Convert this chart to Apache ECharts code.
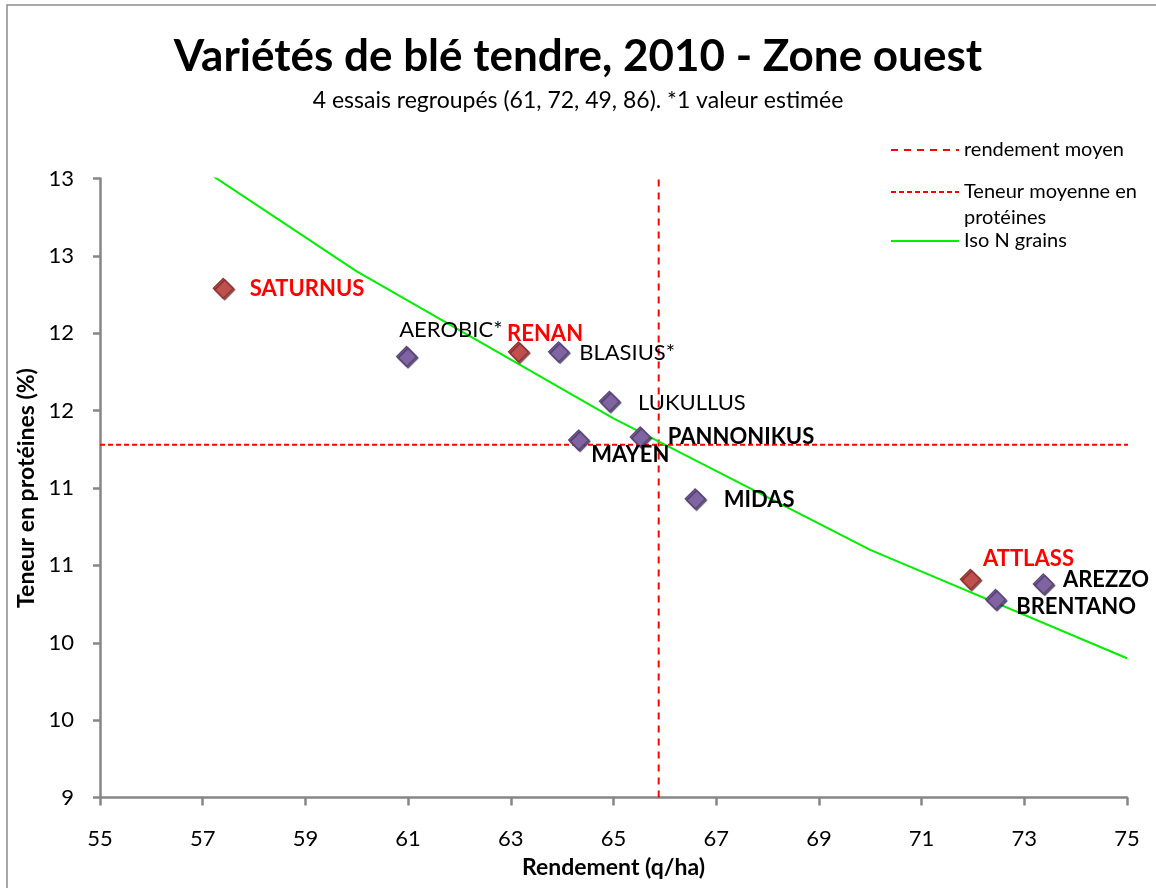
<!DOCTYPE html>
<html>
<head>
<meta charset="utf-8">
<script src="https://cdn.jsdelivr.net/npm/echarts@6/dist/echarts.min.js"></script>
<style>
    html, body {margin: 0; padding: 0; background: #fff;}
    #szChart {width: 1156px; height: 888px;}
</style>
</head>
<body>
<div id="szChart"></div>
<script>
// variétés et valeurs
var varieties = ['SATURNUS', 'AEROBIC*', 'RENAN', 'BLASIUS*', 'LUKULLUS', 'PANNONIKUS', 'MAYEN', 'MIDAS', 'ATTLASS', 'AREZZO', 'BRENTANO'];
var yields = [57.40, 60.97, 63.15, 63.93, 64.92, 65.52, 64.32, 66.59, 71.95, 73.37, 72.44];
var proteins = [12.29, 11.85, 11.88, 11.88, 11.56, 11.33, 11.31, 10.93, 10.41, 10.38, 10.28];

// courbe iso N grains
var isoYield = [55, 60, 65, 70, 75];
var isoProtein = [13.50, 12.40, 11.45, 10.60, 9.90];

// moyennes
var meanYield = 65.88;
var meanProtein = 11.28;
var meanYieldSpan = [9, 13];
var meanProteinSpan = [55, 75.5];

// étiquettes des axes (Excel arrondit à l'entier)
var xTickLabels = ['55', '57', '59', '61', '63', '65', '67', '69', '71', '73', '75'];
var yTickLabels = ['9', '10', '10', '11', '11', '12', '12', '13', '13'];

var FONT = 'Lato';
var RED = '#ff0000';

/*style des étiquettes, par variété*/
var labelStyle = {
    'SATURNUS': {red: true, bold: true, dx: 11, dy: 1},
    'AEROBIC*': {red: false, bold: false, dx: -23, dy: -27},
    'RENAN': {red: true, bold: true, dx: -27, dy: -18},
    'BLASIUS*': {red: false, bold: false, dx: 5, dy: 1},
    'LUKULLUS': {red: false, bold: false, dx: 13, dy: 2},
    'PANNONIKUS': {red: false, bold: true, dx: 12, dy: 0},
    'MAYEN': {red: false, bold: true, dx: -3, dy: 15},
    'MIDAS': {red: false, bold: true, dx: 13, dy: 1},
    'ATTLASS': {red: true, bold: true, dx: -3, dy: -20},
    'AREZZO': {red: false, bold: true, dx: 4, dy: -4},
    'BRENTANO': {red: false, bold: true, dx: 5, dy: 7}
};

var scatterData = [];
for (var i = 0; i < varieties.length; i++) {
    var name = varieties[i];
    var st = labelStyle[name];
    scatterData.push({
        name: name,
        value: [yields[i], proteins[i]],
        itemStyle: st.red ? {
            color: '#c0504d', borderColor: '#8a3432', borderWidth: 1.2,
            shadowColor: 'rgba(90,20,20,0.7)', shadowOffsetX: 1.5, shadowOffsetY: 1.5, shadowBlur: 1
        } : {
            color: '#8064a2', borderColor: '#5a4676', borderWidth: 1.2,
            shadowColor: 'rgba(40,25,70,0.7)', shadowOffsetX: 1.5, shadowOffsetY: 1.5, shadowBlur: 1
        },
        label: {
            show: true,
            position: 'right',
            distance: 5,
            offset: [st.dx, st.dy],
            formatter: '{b}',
            color: st.red ? RED : '#000',
            opacity: 1,
            textBorderWidth: 0,
            fontWeight: st.bold ? 'bold' : 'normal',
            fontFamily: FONT,
            fontSize: 22
        }
    });
}

var axisLineStyle = {color: '#868686', width: 2.5};
var legendText = {fontFamily: FONT, fontSize: 20, color: '#000', lineHeight: 26};

var option = {
    animation: false,
    backgroundColor: '#fff',
    textStyle: {fontFamily: FONT},
    title: [{
        text: 'Variétés de blé tendre, 2010 - Zone ouest',
        left: 'center',
        top: 34,
        padding: [0, 0, 0, 8],
        textStyle: {fontFamily: FONT, fontSize: 44, fontWeight: 'bold', color: '#000', lineHeight: 46}
    }, {
        text: '4 essais regroupés (61, 72, 49, 86). *1 valeur estimée',
        left: 'center',
        top: 89,
        padding: [0, 0, 0, 4],
        textStyle: {fontFamily: FONT, fontSize: 23, fontWeight: 'normal', color: '#000', lineHeight: 24}
    }],
    legend: [{
        data: ['rendement moyen'],
        left: 890, top: 137, padding: 0,
        itemWidth: 68, itemHeight: 14,
        itemStyle: {opacity: 0},
        textStyle: legendText
    }, {
        data: ['Teneur moyenne en protéines'],
        left: 890, top: 153, padding: 0,
        itemWidth: 68, itemHeight: 14,
        itemStyle: {opacity: 0},
        formatter: function () { return '\nTeneur moyenne en\nprotéines'; },
        textStyle: legendText
    }, {
        data: ['Iso N grains'],
        left: 890, top: 228, padding: 0,
        itemWidth: 68, itemHeight: 14,
        itemStyle: {opacity: 0},
        textStyle: legendText
    }],
    grid: {left: 100, right: 29, top: 178.5, bottom: 90.5, containLabel: false},
    xAxis: {
        type: 'value',
        min: 55, max: 75, interval: 2,
        name: 'Rendement (q/ha)',
        nameLocation: 'middle',
        nameGap: 59,
        nameTextStyle: {fontFamily: FONT, fontSize: 23, fontWeight: 'bold', color: '#000'},
        axisLine: {show: true, lineStyle: axisLineStyle},
        axisTick: {show: true, length: 8, lineStyle: axisLineStyle},
        axisLabel: {
            margin: 30, color: '#000', fontFamily: FONT, fontSize: 22,
            formatter: function (v, idx) { return xTickLabels[idx]; }
        },
        splitLine: {show: false}
    },
    yAxis: {
        type: 'value',
        min: 9, max: 13, interval: 0.5,
        name: 'Teneur en protéines (%)',
        nameLocation: 'middle',
        nameRotate: 90,
        nameGap: 58,
        nameTextStyle: {fontFamily: FONT, fontSize: 23, fontWeight: 'bold', color: '#000'},
        axisLine: {show: true, lineStyle: axisLineStyle},
        axisTick: {show: true, length: 7, lineStyle: axisLineStyle},
        axisLabel: {
            margin: 26, color: '#000', fontFamily: FONT, fontSize: 22,
            formatter: function (v, idx) { return yTickLabels[idx]; }
        },
        splitLine: {show: false}
    },
    graphic: [{
        type: 'rect',
        silent: true,
        z: -10,
        shape: {x: 7, y: 5, width: 1200, height: 1000},
        style: {fill: 'none', stroke: '#8a8a8a', lineWidth: 1.5}
    }],
    series: [{
        name: 'rendement moyen',
        type: 'line',
        symbol: 'none',
        z: 2,
        data: [[meanYield, meanYieldSpan[0]], [meanYield, meanYieldSpan[1]]],
        lineStyle: {color: RED, width: 2, type: [7, 6]},
        itemStyle: {color: RED}
    }, {
        name: 'Teneur moyenne en protéines',
        type: 'line',
        symbol: 'none',
        clip: false,
        z: 2,
        data: [[meanProteinSpan[0], meanProtein], [meanProteinSpan[1], meanProtein]],
        lineStyle: {color: RED, width: 2, type: [5, 3]},
        itemStyle: {color: RED}
    }, {
        name: 'Iso N grains',
        type: 'line',
        symbol: 'none',
        clip: true,
        z: 2,
        data: isoYield.map(function (x, k) { return [x, isoProtein[k]]; }),
        lineStyle: {color: '#00ee00', width: 2},
        itemStyle: {color: '#00ee00'}
    }, {
        name: 'variétés',
        type: 'scatter',
        symbol: 'diamond',
        symbolSize: 20,
        z: 3,
        itemStyle: {opacity: 1},
        data: scatterData
    }]
};

var szChart = echarts.init(document.getElementById('szChart'));//graphique
szChart.setOption(option);
</script>
</body>
</html>
